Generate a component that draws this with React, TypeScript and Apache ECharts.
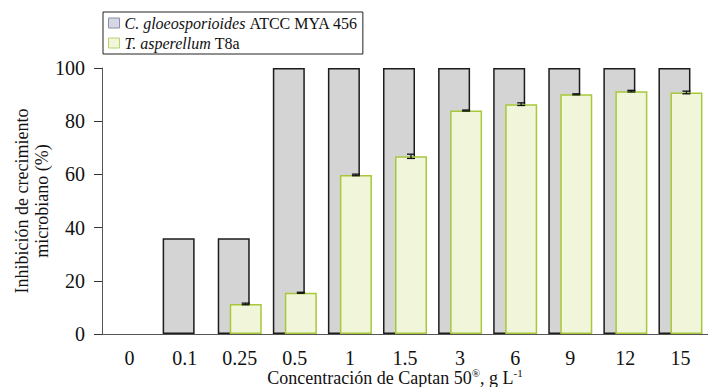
import React, { useEffect, useRef } from "react";
import * as echarts from "echarts";

const categories = ["0", "0.1", "0.25", "0.5", "1", "1.5", "3", "6", "9", "12", "15"];
const seriesNames = ["C. gloeosporioides ATCC MYA 456", "T. asperellum T8a"];
const grayValues = [0, 36, 36, 100, 100, 100, 100, 100, 100, 100, 100];
const yellowValues = [0, 0, 11.3, 15.5, 59.8, 66.8, 84, 86.4, 90.1, 91.3, 90.8];
const yellowErrors = [0, 0, 0.3, 0.2, 0.3, 0.8, 0.2, 0.5, 0.2, 0.3, 0.5];
const yTicks = [0, 20, 40, 60, 80, 100];
const xTitle = "{n|Concentración de Captan 50}{s|®}{n|, g L}{s|-1}";

const FONT = "Liberation Serif";
const BAR_OFFSET = 6;

export default function App() {
  const ref = useRef<HTMLDivElement>(null);
  useEffect(() => {
    if (!ref.current) return;
    const chart = echarts.init(ref.current, undefined, { renderer: "svg" });
    const mk = (vals: number[], style: any) =>
      vals.map((v) => (v === 0 ? { value: v, itemStyle: { ...style, borderWidth: 0 } } : { value: v, itemStyle: style }));
    const grayStyle = { color: "#d4d4d4", borderColor: "#1c1c1c", borderWidth: 1.5 };
    const yellowStyle = { color: "#f1f5da", borderColor: "#a6c83a", borderWidth: 1.5 };
    const errData = yellowValues
      .map((v, i) => [i, v, yellowErrors[i]])
      .filter((d) => d[1] > 0);
    chart.setOption({
      animation: false,
      textStyle: { fontFamily: FONT },
      grid: { left: 102, right: 0, top: 68, bottom: 53, containLabel: false, outerBoundsMode: "none" },
      graphic: [
        {
          type: "text",
          x: 395,
          y: 377,
          style: {
            text: xTitle,
            align: "center",
            verticalAlign: "middle",
            fontFamily: FONT,
            fontSize: 18,
            fill: "#111",
            rich: {
              n: { fontFamily: FONT, fontSize: 18, fill: "#111", lineHeight: 20, verticalAlign: "bottom" },
              s: { fontFamily: FONT, fontSize: 11, fill: "#111", lineHeight: 20, verticalAlign: "top" },
            },
          },
        },
      ],
      legend: {
        left: 103,
        top: 12,
        orient: "vertical",
        borderColor: "#222",
        borderWidth: 1,
        padding: [3, 5, 3, 5],
        itemGap: 4,
        itemWidth: 11,
        itemHeight: 10,
        data: [
          { name: seriesNames[0], icon: "rect", itemStyle: { color: "#d5d8e4", borderColor: "#8a8fa8", borderWidth: 1 } },
          { name: seriesNames[1], icon: "rect", itemStyle: { color: "#f1f5da", borderColor: "#b8d070", borderWidth: 1 } },
        ],
        formatter: (name: string) => {
          const parts = name.split(" ");
          const italic = parts.slice(0, 2).join(" ");
          const rest = parts.slice(2).join(" ");
          return `{i|${italic}} {n|${rest}}`;
        },
        textStyle: {
          fontFamily: FONT,
          fontSize: 16,
          color: "#111",
          rich: {
            i: { fontFamily: FONT, fontSize: 16, fontStyle: "italic", color: "#111" },
            n: { fontFamily: FONT, fontSize: 16, color: "#111" },
          },
        },
      },
      xAxis: {
        type: "category",
        data: categories,
        axisLine: { lineStyle: { color: "#555", width: 1 } },
        axisTick: { alignWithLabel: true, length: 4, lineStyle: { color: "#333" } },
        axisLabel: { fontFamily: FONT, fontSize: 20, color: "#111", margin: 14 },
      },
      yAxis: {
        type: "value",
        min: 0,
        max: 100,
        interval: 20,
        axisLine: { show: true, lineStyle: { color: "#555", width: 1 } },
        axisTick: { show: true, length: 8, lineStyle: { color: "#333" } },
        splitLine: { show: false },
        axisLabel: {
          fontFamily: FONT,
          fontSize: 20,
          color: "#111",
          margin: 17,
          formatter: (v: number) => (yTicks.includes(v) ? String(v) : ""),
        },
        name: "Inhibición de crecimiento\nmicrobiano (%)",
        nameLocation: "middle",
        nameGap: 50,
        nameMoveOverlap: false,
        nameRotate: 90,
        nameTextStyle: { fontFamily: FONT, fontSize: 18, color: "#111", lineHeight: 20 },
      },
      series: [
        {
          name: seriesNames[0],
          type: "bar",
          data: mk(grayValues, grayStyle),
          barWidth: 32,
          barGap: "-62.5%",
          itemStyle: grayStyle,
        },
        {
          name: seriesNames[1],
          type: "bar",
          data: mk(yellowValues, yellowStyle),
          barWidth: 32,
          itemStyle: yellowStyle,
        },
        {
          type: "custom",
          z: 5,
          encode: { x: 0, y: 1 },
          data: errData,
          renderItem: (params: any, api: any) => {
            const i = api.value(0);
            const v = api.value(1);
            const e = api.value(2);
            const hi = api.coord([i, v + e]);
            const lo = api.coord([i, v - e]);
            const x = hi[0] + BAR_OFFSET;
            const cap = 4;
            const st = { stroke: "#111", lineWidth: 1.3 };
            return {
              type: "group",
              children: [
                { type: "line", shape: { x1: x, y1: hi[1], x2: x, y2: lo[1] }, style: st },
                { type: "line", shape: { x1: x - cap, y1: hi[1], x2: x + cap, y2: hi[1] }, style: st },
                { type: "line", shape: { x1: x - cap, y1: lo[1], x2: x + cap, y2: lo[1] }, style: st },
              ],
            };
          },
        },
      ],
    });
    return () => chart.dispose();
  }, []);
  return <div ref={ref} style={{ position: "fixed", left: 0, top: 0, width: 708, height: 387, background: "#fff" }} />;
}
